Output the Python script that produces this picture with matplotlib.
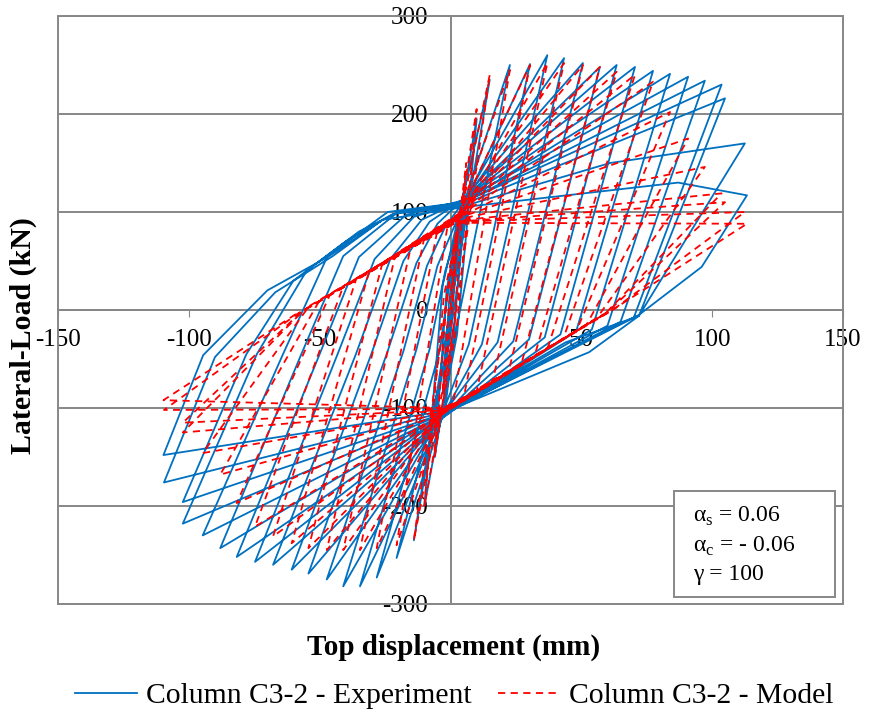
import numpy as np
import matplotlib.pyplot as plt
from matplotlib.patches import Rectangle

plt.rcParams['font.family'] = ['Liberation Serif', 'DejaVu Serif']
plt.rcParams['mathtext.fontset'] = 'custom'
plt.rcParams['mathtext.rm'] = 'Liberation Serif'
plt.rcParams['axes.unicode_minus'] = False

nan = np.nan

# imposed displacement peaks (mm), one entry per cycle
disp_pos = [3, 6, 10, 15, 22.7, 30.4, 37.0, 43.4, 50.6, 57.1, 63.5, 70.5, 77.4, 83.9, 90.8, 97.2, 103.6, 104.9, 112.5, 113.3]
disp_neg = [-3, -6, -10, -14, -20.6, -28.2, -34.6, -41.0, -47.3, -54.3, -60.7, -67.8, -74.7, -81.7, -88.0, -94.7, -102.3, -102.3, -109.5, -109.7]

# experiment: peak loads (kN)
exp_load_pos = [80, 140, 195, 235, 250, 251, 260, 257, 252, 248, 250, 248, 244, 241, 238, 234, 230, 216, 170, 117]
exp_load_neg = [-85, -150, -200, -235, -253, -273, -282, -282, -275, -269, -265, -260, -257, -252, -243, -230, -218, -196, -176, -148]

# experiment: pinching point before positive peak
exp_pin_pos_d = [nan, nan, nan, nan, 5, 6, 6, 7, 7, 7, 6, 6, 6, 6, 5, 5, 5, 5, 5, 5]
exp_pin_pos_f = [nan, nan, nan, nan, 108, 112, 115, 118, 120, 118, 116, 115, 114, 112, 112, 110, 110, 108, 106, 105]
exp_mid_d = [nan] * 18 + [61, 87]
exp_mid_f = [nan] * 18 + [150, 130]

# experiment: unloading knees after positive peak
exp_unl_pos_d = [0.5, 1.5, 2.5, -2, 1, 7, 12, 18, 24, 30, 36, 42, 48, 54, 60, 65, 70, 72, 72, 96]
exp_unl_pos_f = [-10, -20, -25, -30, -35, -35, -35, -33, -32, -30, -28, -25, -22, -20, -16, -12, -8, -6, -6, 44]
exp_unl2_pos_d = [nan] * 17 + [44, 53, 72]
exp_unl2_pos_f = [nan] * 17 + [-33, -43, -5]

# experiment: pinching point before negative peak
exp_pin_neg_d = [nan] * 4 + [-2, -3, -3, -4, -4, -4, -3, -3, -3, -3, -3, -2, -2, -2, -2, -2]
exp_pin_neg_f = [nan] * 4 + [-100, -105, -108, -110, -112, -112, -110, -110, -108, -108, -107, -106, -105, -105, -104, -103]

# experiment: reloading path after negative peak
exp_unl_neg_d = [-0.5, -1.5, -3, -1, -1, -4, -8, -13, -18, -24, -30, -36, -43, -50, -57, -64, -74, -78, -90, -94.5]
exp_unl_neg_f = [10, 20, 25, -30, -40, -40, -40, -40, -42, -42, -43, -44, -44, -45, -45, -45, -45, -45, -48, -46]
exp_rel_g_d = [nan] * 4 + [3, 0, -2, -5, -9, -13, -18, -23, -29, -35, -41, -47, -55, -60, -67, -70]
exp_rel_g_f = [nan] * 4 + [30, 35, 40, 45, 45, 48, 50, 52, 52, 54, 55, 55, 40, 30, 18, 20]
exp_rel_h_d = [nan] * 8 + [-2, -5, -8, -11, -14, -17, -20, -24, -35, -40, -45, -47]
exp_rel_h_f = [nan] * 8 + [85, 88, 90, 92, 95, 97, 100, 100, 80, 70, 55, 54]
exp_rel_i_d = [nan] * 16 + [-20, -22, -26, -27]
exp_rel_i_f = [nan] * 16 + [100, 98, 92, 90]

# model: peak loads (kN)
mod_load_pos = [85, 150, 205, 240, 245, 250, 252, 252, 250, 248, 243, 240, 233, 202, 175, 146, 119, 110, 100, 88]
mod_load_neg = [-85, -150, -200, -235, -240, -243, -245, -245, -245, -243, -238, -231, -221, -197, -168, -146, -125, -115, -102, -92]

# model: pinching points and unloading knees (on the pinched bands)
mod_pin_pos_d = [nan] * 4 + [3, 3, 4, 4, 4, 3, 3, 3, 3, 3, 2, 2, 2, 2, 2, 2]
mod_pin_pos_f = [nan] * 4 + [95, 96, 97, 98, 98, 98, 97, 96, 95, 94, 93, 92, 91, 90, 90, 89]
mod_unl_pos_d = [0.5, 1.5, 2.5, 0, 1, 5, 10, 16, 22, 27, 32, 37, 43, 48, 52, 56, 59, 60, 62, 63]
mod_unl_pos_f = [-5, -10, -15, -40, -95, -90, -83, -74, -65, -56, -48, -40, -30, -22, -15, -8, -4, -2, 0, 2]
mod_pin_neg_d = [nan] * 4 + [-3, -3, -4, -4, -4, -3, -3, -3, -3, -3, -3, -2, -2, -2, -2, -2]
mod_pin_neg_f = [nan] * 4 + [-100, -102, -104, -105, -106, -106, -106, -105, -105, -104, -104, -103, -102, -102, -101, -100]
mod_unl_neg_d = [-0.5, -1.5, -2.5, 0, -1, -5, -10, -15, -21, -26, -31, -36, -41, -46, -50, -54, -56, -57, -58, -59]
mod_unl_neg_f = [5, 10, 15, 40, 88, 82, 74, 66, 57, 48, 40, 32, 24, 16, 10, 4, 0, -2, -3, -4]


def hysteresis(points):
    xs, ys = [0.0], [0.0]
    for i in range(len(disp_pos)):
        for d, f in points:
            if not np.isnan(d[i]):
                xs.append(d[i])
                ys.append(f[i])
    return xs, ys


exp_x, exp_y = hysteresis([
    (exp_pin_pos_d, exp_pin_pos_f), (exp_mid_d, exp_mid_f), (disp_pos, exp_load_pos),
    (exp_unl_pos_d, exp_unl_pos_f), (exp_unl2_pos_d, exp_unl2_pos_f),
    (exp_pin_neg_d, exp_pin_neg_f), (disp_neg, exp_load_neg),
    (exp_unl_neg_d, exp_unl_neg_f), (exp_rel_g_d, exp_rel_g_f),
    (exp_rel_h_d, exp_rel_h_f), (exp_rel_i_d, exp_rel_i_f)])

mod_x, mod_y = hysteresis([
    (mod_pin_pos_d, mod_pin_pos_f), (disp_pos, mod_load_pos),
    (mod_unl_pos_d, mod_unl_pos_f), (mod_pin_neg_d, mod_pin_neg_f),
    (disp_neg, mod_load_neg), (mod_unl_neg_d, mod_unl_neg_f)])

grey = '#878787'
W, H = 869, 719
fig = plt.figure(figsize=(W / 100, H / 100), dpi=100)
ax = fig.add_axes([58 / W, 1 - 604 / H, (843 - 58) / W, (604 - 16) / H])

ax.plot(exp_x, exp_y, color='#0070C0', lw=1.3, label='Column C3-2 - Experiment', zorder=3)
ax.plot(mod_x, mod_y, color='#FF0000', lw=1.3, ls=(0, (4, 3)), label='Column C3-2 - Model', zorder=4)

ax.set_xlim(-150, 150)
ax.set_ylim(-300, 300)
ax.set_xticks(range(-150, 151, 50))
ax.set_yticks(range(-300, 301, 100))
ax.yaxis.grid(True, color=grey, lw=1.4, zorder=1)
ax.set_axisbelow(True)

ax.spines['left'].set_position(('data', 0))
ax.spines['bottom'].set_position(('data', 0))
ax.spines['top'].set_visible(False)
ax.spines['right'].set_visible(False)
for s in ('left', 'bottom'):
    ax.spines[s].set_color(grey)
    ax.spines[s].set_linewidth(1.4)
    ax.spines[s].set_zorder(2)
ax.add_patch(Rectangle((0, 0), 1, 1, transform=ax.transAxes, fill=False,
                       edgecolor=grey, lw=1.4, clip_on=False, zorder=2))

ax.tick_params(axis='x', direction='out', length=5, color=grey, pad=9, labelsize=18)
ax.tick_params(axis='y', length=0, pad=16, labelsize=18)

fig.text(454 / W, 1 - 655 / H, 'Top displacement (mm)', ha='center', va='baseline',
         fontsize=21, fontweight='bold')
fig.text(23 / W, 1 - 336 / H, 'Lateral-Load (kN)', ha='center', va='center',
         rotation=90, fontsize=21.5, fontweight='bold')

fig.legend(loc='center', bbox_to_anchor=(454 / W, 1 - 696 / H), ncol=2, frameon=False,
           fontsize=21.3, handlelength=2.1, handletextpad=0.3, columnspacing=0.9)

fig.add_artist(Rectangle((674 / W, 1 - 597 / H), 161 / W, 106 / H, transform=fig.transFigure,
                         facecolor='white', edgecolor=grey, lw=1.4, zorder=5))
for txt, yb in [(r'α$_\mathrm{s}$ = 0.06', 522), (r'α$_\mathrm{c}$ = - 0.06', 552), ('γ = 100', 580)]:
    fig.text(693 / W, 1 - yb / H, txt, ha='left', va='baseline', fontsize=17, zorder=6)

fig.savefig('out.png', dpi=100)
